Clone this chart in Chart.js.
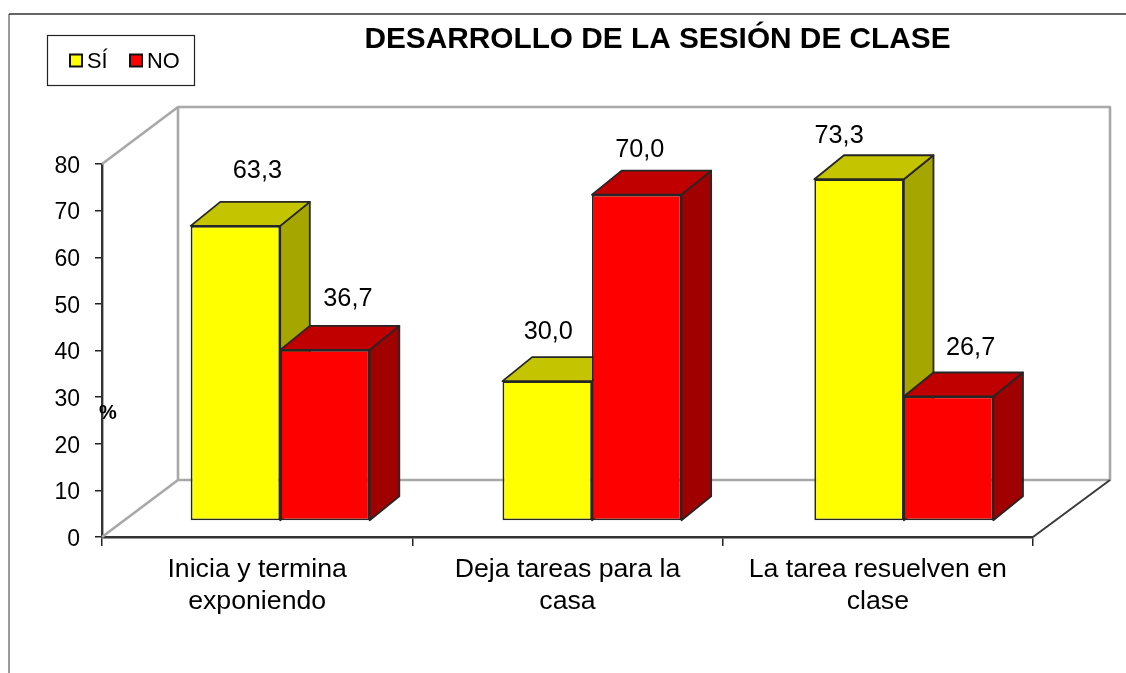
<!DOCTYPE html>
<html lang="es">
<head>
<meta charset="utf-8">
<title>Desarrollo de la sesión de clase</title>
<script src="https://cdn.jsdelivr.net/npm/chart.js@4"></script>
<style>
html,body{margin:0;padding:0;background:#fff}
canvas{display:block;filter:blur(.35px)}
</style>
</head>
<body>
<canvas id="c" width="1126" height="673"></canvas>
<script>
const chartTitle = 'DESARROLLO DE LA SESIÓN DE CLASE';
const axisUnit = '%';
const categories = [['Inicia y termina','exponiendo'],['Deja tareas para la','casa'],['La tarea resuelven en','clase']];
const siValues = [63.3, 30.0, 73.3];
const noValues = [36.7, 70.0, 26.7];
const seriesNames = ['SÍ', 'NO'];
const yMax = 80, yStep = 10;

// styling / layout only
const FONT = '"Liberation Sans", Arial, sans-serif';
const faceColors = [
  {front:'#ffff00', top:'#c4c400', side:'#a6a600'},
  {front:'#ff0000', top:'#c00000', side:'#a00000'}
];
const labelNudge = [
  [[22,-56],[1,-50],[-20,-44]],
  [[23,-52],[3,-46],[22,-49]]
];
const barShift = {sx:1.00483, c:21.76, dy:-16};
const depth = {x:29.5, y:-24};
const wall = {x:76, y:-57};
const EDGE = '#262626';

const frame3d = {
  id:'frame3d',
  afterLayout(chart){
    // the reference's value labels sit a little lower than the canvas "middle" baseline
    const s = chart.scales.y;
    if(!s._nudged){
      const orig = s.drawLabels;
      s.drawLabels = function(a){ const c=this.ctx; c.save(); c.translate(0,2.5); orig.call(this,a); c.restore(); };
      s._nudged = true;
    }
  },
  beforeDraw(chart){
    const c = chart.ctx;
    c.save();
    c.lineWidth = 1.6;
    c.strokeStyle = '#808080';
    c.beginPath(); c.moveTo(9,14); c.lineTo(9,673); c.stroke();
    c.strokeStyle = '#333';
    c.beginPath(); c.moveTo(9,14); c.lineTo(1126,14); c.stroke();
    // legend box
    c.lineWidth = 1.2; c.strokeStyle = '#222';
    c.strokeRect(47.5,35.5,147,50);
    [[70,faceColors[0].front,seriesNames[0],87],[130,faceColors[1].front,seriesNames[1],147]].forEach(([x,col,t,tx])=>{
      c.fillStyle = col; c.lineWidth = 2; c.strokeStyle = '#111';
      c.fillRect(x,54.5,12,12); c.strokeRect(x,54.5,12,12);
      c.fillStyle = '#000'; c.font = '21.8px '+FONT; c.textAlign='left'; c.textBaseline='middle';
      c.fillText(t,tx,62);
    });
    // title
    c.fillStyle='#000'; c.font='bold 29.8px '+FONT; c.textAlign='center'; c.textBaseline='middle';
    c.fillText(chartTitle,657.5,40);
    c.restore();
  },
  beforeDatasetsDraw(chart){
    const c = chart.ctx, {left,right,top,bottom} = chart.chartArea;
    const bl = left+wall.x, br = right+wall.x+1, bt = top+wall.y, bb = bottom+wall.y;
    c.save();
    c.lineJoin='round';
    c.strokeStyle='#a8a8a8'; c.lineWidth=2.6;
    c.beginPath();
    c.moveTo(left,top); c.lineTo(bl,bt); c.lineTo(br,bt); c.lineTo(br,bb); c.lineTo(bl,bb); c.lineTo(bl,bt);
    c.moveTo(bl,bb); c.lineTo(left,bottom);
    c.stroke();
    c.strokeStyle='#3a3a3a'; c.lineWidth=2;
    c.beginPath(); c.moveTo(right,bottom); c.lineTo(br,bb); c.stroke();
    // side and top faces of every bar, left series first
    c.translate(barShift.c, barShift.dy);
    c.scale(barShift.sx,1);
    c.lineWidth=1.8; c.strokeStyle=EDGE;
    chart.data.datasets.forEach((ds,i)=>{
      const col = faceColors[i];
      chart.getDatasetMeta(i).data.forEach(el=>{
        const l=el.x-el.width/2, r=el.x+el.width/2, t=el.y, b=el.base;
        c.fillStyle=col.side;
        c.beginPath(); c.moveTo(r,t); c.lineTo(r+depth.x,t+depth.y); c.lineTo(r+depth.x,b+depth.y); c.lineTo(r,b); c.closePath(); c.fill(); c.stroke();
        c.fillStyle=col.top;
        c.beginPath(); c.moveTo(l,t); c.lineTo(l+depth.x,t+depth.y); c.lineTo(r+depth.x,t+depth.y); c.lineTo(r,t); c.closePath(); c.fill(); c.stroke();
      });
    });
    c.restore();
  },
  beforeDatasetDraw(chart){
    const c = chart.ctx;
    c.save();
    c.translate(barShift.c, barShift.dy);
    c.scale(barShift.sx,1);
  },
  afterDatasetDraw(chart){ chart.ctx.restore(); },
  afterDatasetsDraw(chart){
    const c = chart.ctx;
    c.save();
    c.fillStyle='#000'; c.font='25.3px '+FONT; c.textAlign='center'; c.textBaseline='middle';
    chart.data.datasets.forEach((ds,i)=>{
      chart.getDatasetMeta(i).data.forEach((el,j)=>{
        const n = labelNudge[i][j];
        const sx = el.x*barShift.sx+barShift.c;
        c.fillText(ds.data[j].toFixed(1).replace('.',','), sx+n[0], el.y+barShift.dy+n[1]+1);
      });
    });
    c.font='bold 20px '+FONT;
    c.fillText(axisUnit,108,413);
    c.restore();
  }
};

new Chart(document.getElementById('c'),{
  type:'bar',
  plugins:[frame3d],
  data:{
    labels:categories,
    datasets:[
      {label:seriesNames[0],data:siValues,backgroundColor:faceColors[0].front,borderColor:EDGE,borderWidth:1.8,borderSkipped:false,clip:false},
      {label:seriesNames[1],data:noValues,backgroundColor:faceColors[1].front,borderColor:EDGE,borderWidth:1.8,borderSkipped:false,clip:false}
    ]
  },
  options:{
    responsive:false,
    animation:false,
    events:[],
    layout:{padding:{left:0,right:93,top:164,bottom:0}},
    datasets:{bar:{categoryPercentage:0.574,barPercentage:1}},
    plugins:{legend:{display:false},title:{display:false},tooltip:{enabled:false}},
    scales:{
      x:{
        grid:{drawOnChartArea:false,color:'#222',tickLength:9,lineWidth:1.5},
        border:{color:'#333',width:2.4},
        ticks:{color:'#000',font:{family:FONT,size:26.7,lineHeight:1.2},maxRotation:0,autoSkip:false,padding:8},
        afterFit(s){s.height=136;}
      },
      y:{
        min:0,max:yMax,
        grid:{drawOnChartArea:false,color:'#222',tickLength:7,lineWidth:1.5},
        border:{color:'#333',width:2.4},
        ticks:{stepSize:yStep,color:'#000',font:{family:FONT,size:23},padding:15},
        afterFit(s){s.width=102;}
      }
    }
  }
});
</script>
</body>
</html>
